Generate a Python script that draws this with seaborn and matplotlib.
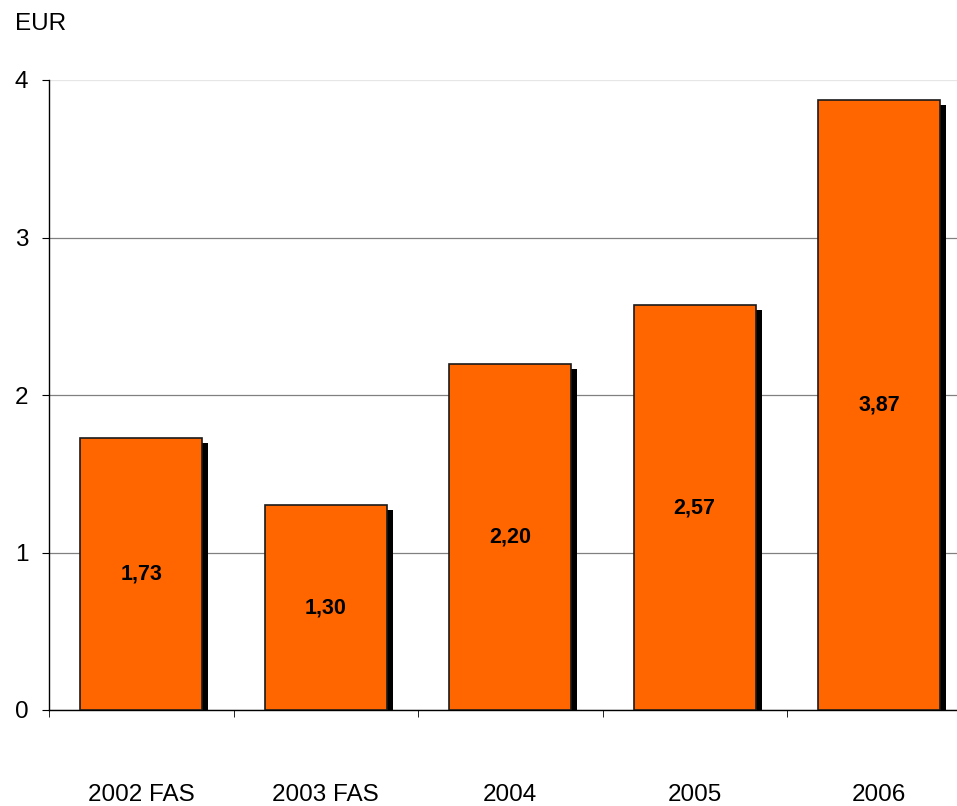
import matplotlib
matplotlib.use("Agg")
import matplotlib.pyplot as plt
import matplotlib.patheffects as pe
import seaborn as sns
import pandas as pd

categories = ["2002 FAS", "2003 FAS", "2004", "2005", "2006"]
values = [1.73, 1.30, 2.20, 2.57, 3.87]
value_labels = ["1,73", "1,30", "2,20", "2,57", "3,87"]

df = pd.DataFrame({"year": categories, "eps": values})

sns.set_style("white")
plt.rcParams["font.family"] = ["Liberation Sans", "DejaVu Sans"]
plt.rcParams["text.color"] = "black"
plt.rcParams["xtick.color"] = "black"
plt.rcParams["ytick.color"] = "black"

fig = plt.figure(figsize=(9.57, 8.06), dpi=100)
ax = fig.add_axes([49 / 957, 1 - 710 / 806, (957 - 49) / 957, 630 / 806])

sns.barplot(data=df, x="year", y="eps", color="#ff6600", saturation=1,
            width=0.66, edgecolor="#1a1a1a", linewidth=1.2, ax=ax, zorder=3)

# drop shadow like the old office chart
for p in ax.patches:
    p.set_path_effects([pe.SimplePatchShadow(offset=(4.4, -3.6), shadow_rgbFace="black", alpha=1.0),
                        pe.Normal()])

for i, lab in enumerate(value_labels):
    ax.text(i, values[i] / 2, lab, ha="center", va="center",
            fontsize=15.5, fontweight="bold", zorder=5)

ax.set_yticks([0, 1, 2, 3, 4])
ax.yaxis.grid(True, color="#808080", linewidth=0.9, zorder=0)
ax.get_ygridlines()[-1].set_color("#e6e6e6")
ax.set_axisbelow(True)

ax.set_xticks([i - 0.5 for i in range(6)], minor=True)
ax.set_xticks(range(5))
ax.set_xticklabels(categories)
ax.set_ylim(0, 4)
ax.set_xlim(-0.5, (957 - 49) / 184.5 - 0.5)
ax.tick_params(axis="x", which="major", length=0, pad=53, labelsize=17.5)
ax.tick_params(axis="x", which="minor", length=5, direction="out", bottom=True, color="black")
ax.tick_params(axis="y", length=5, direction="out", left=True, labelsize=17.5, pad=10, color="black")

ax.set_xlabel("")
ax.set_ylabel("")
for s in ["top", "right"]:
    ax.spines[s].set_visible(False)
for s in ["left", "bottom"]:
    ax.spines[s].set_color("black")
    ax.spines[s].set_linewidth(1.0)

fig.text(15 / 957, 1 - 24 / 806, "EUR", fontsize=17.5, va="center", ha="left")

fig.savefig("out.png", dpi=100)
